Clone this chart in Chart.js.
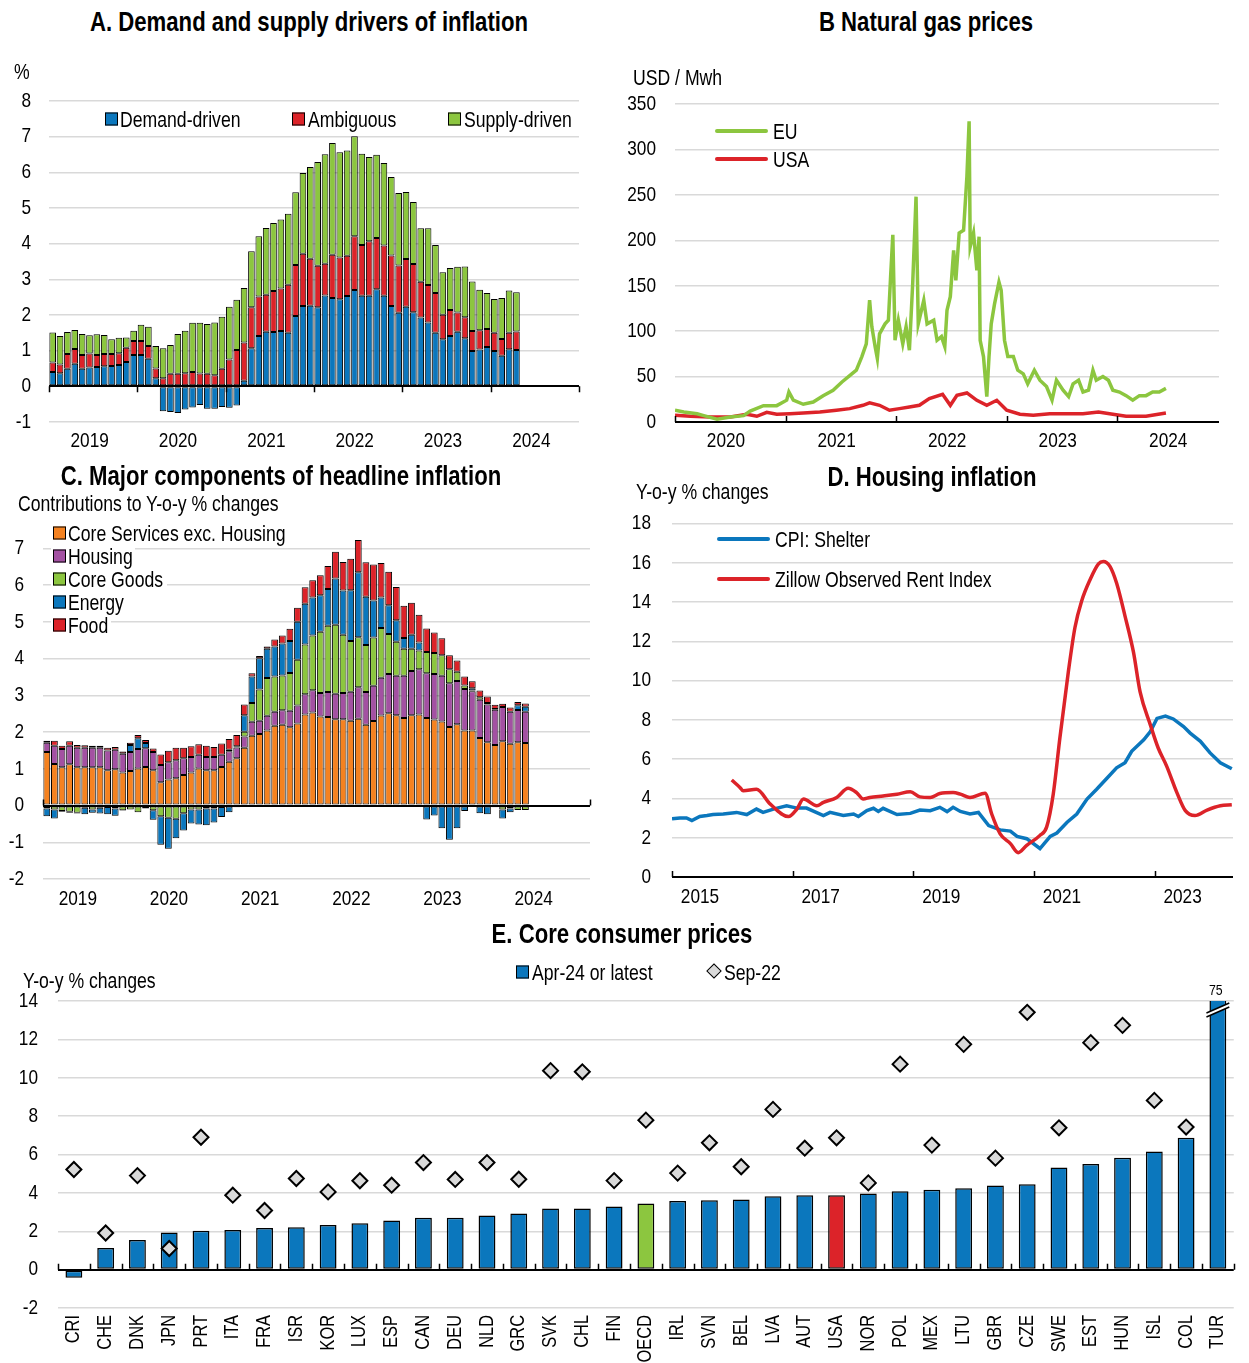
<!DOCTYPE html>
<html lang="en"><head><meta charset="utf-8"><title>Inflation drivers</title>
<script src="https://cdn.jsdelivr.net/npm/chart.js@4.4.1/dist/chart.umd.min.js"></script>
<style>
 html,body{margin:0;padding:0;background:#fff}
 body{position:relative;width:1249px;height:1363px;overflow:hidden;color:#000;
   font-family:'Liberation Sans Narrow','Arial Narrow','Liberation Sans',sans-serif}
 canvas{position:absolute;display:block}
 .txt{position:absolute;white-space:nowrap;line-height:1;font-size:21.5px;transform:translateY(-43%) scaleX(0.82);transform-origin:left center}
 .ttl{position:absolute;white-space:nowrap;line-height:1;font-size:27px;font-weight:bold;transform:translate(-50%,-50%) scaleX(0.82);transform-origin:center center}
 .sw{position:absolute;width:11px;height:11px;border:1px solid #000;transform:translateY(-50%)}
 .ln{position:absolute;height:4px;border-radius:2px;transform:translateY(-50%)}
 .bgw{position:absolute;background:#fff;height:20px;transform:translateY(-50%)}
 .dia{position:absolute;width:9px;height:9px;border:1.5px solid #000;background:#d9d9d9;transform:translate(-50%,-50%) rotate(45deg)}
</style></head><body>
<canvas id="cA" width="600" height="400" style="left:0;top:60px"></canvas>
<canvas id="cB" width="649" height="400" style="left:600px;top:60px"></canvas>
<canvas id="cC" width="600" height="440" style="left:0;top:480px"></canvas>
<canvas id="cD" width="649" height="430" style="left:600px;top:490px"></canvas>
<canvas id="cE" width="1249" height="413" style="left:0;top:950px"></canvas>

<div class="ttl" style="left:309px;top:22px">A. Demand and supply drivers of inflation</div>
<div class="ttl" style="left:926px;top:22px">B Natural gas prices</div>
<div class="ttl" style="left:281px;top:476px">C. Major components of headline inflation</div>
<div class="ttl" style="left:932px;top:477px">D. Housing inflation</div>
<div class="ttl" style="left:622px;top:934px">E. Core consumer prices</div>

<div class="txt" style="left:14px;top:71px">%</div>
<div class="txt" style="left:633px;top:77px">USD / Mwh</div>
<div class="txt" style="left:18px;top:503px">Contributions to Y-o-y % changes</div>
<div class="txt" style="left:636px;top:491px">Y-o-y % changes</div>
<div class="txt" style="left:23px;top:980px">Y-o-y % changes</div>

<!-- panel A legend -->
<div class="sw" style="left:105px;top:119px;background:#0b77bd"></div><div class="txt" style="left:120px;top:119px">Demand-driven</div>
<div class="sw" style="left:292px;top:119px;background:#dc2329"></div><div class="txt" style="left:308px;top:119px">Ambiguous</div>
<div class="sw" style="left:448px;top:119px;background:#8cc63f"></div><div class="txt" style="left:464px;top:119px">Supply-driven</div>

<!-- panel B legend -->
<div class="ln" style="left:715px;top:131px;width:53px;background:#8cc63f"></div><div class="txt" style="left:773px;top:131px">EU</div>
<div class="ln" style="left:715px;top:159px;width:53px;background:#dc2329"></div><div class="txt" style="left:773px;top:159px">USA</div>

<!-- panel C legend -->
<div class="bgw" style="left:51px;top:533px;width:237px"></div>
<div class="bgw" style="left:51px;top:556px;width:84px"></div>
<div class="bgw" style="left:51px;top:579px;width:116px"></div>
<div class="bgw" style="left:51px;top:602px;width:76px"></div>
<div class="bgw" style="left:51px;top:625px;width:60px"></div>
<div class="sw" style="left:53px;top:533px;background:#f58220"></div><div class="txt" style="left:68px;top:533px">Core Services exc. Housing</div>
<div class="sw" style="left:53px;top:556px;background:#a351a2"></div><div class="txt" style="left:68px;top:556px">Housing</div>
<div class="sw" style="left:53px;top:579px;background:#8cc63f"></div><div class="txt" style="left:68px;top:579px">Core Goods</div>
<div class="sw" style="left:53px;top:602px;background:#0b77bd"></div><div class="txt" style="left:68px;top:602px">Energy</div>
<div class="sw" style="left:53px;top:625px;background:#dc2329"></div><div class="txt" style="left:68px;top:625px">Food</div>

<!-- panel D legend -->
<div class="ln" style="left:717px;top:539px;width:53px;background:#0b77bd"></div><div class="txt" style="left:775px;top:539px">CPI: Shelter</div>
<div class="ln" style="left:717px;top:579px;width:53px;background:#dc2329"></div><div class="txt" style="left:775px;top:579px">Zillow Observed Rent Index</div>

<!-- panel E legend -->
<div class="sw" style="left:516px;top:972px;background:#0b77bd"></div><div class="txt" style="left:532px;top:972px">Apr-24 or latest</div>
<div class="dia" style="left:714px;top:971px"></div><div class="txt" style="left:724px;top:972px">Sep-22</div>

<script>
// ---------- Panel A: drivers of inflation (monthly, Jan 2019 - Apr 2024) ----------
const demandDriven = [0.40,0.37,0.49,0.63,0.49,0.53,0.54,0.56,0.57,0.60,0.68,0.88,
  0.88,0.77,0.23,-0.70,-0.72,-0.75,-0.65,-0.59,-0.52,-0.63,-0.63,-0.58,
  -0.60,-0.54,0.16,1.07,1.41,1.53,1.52,1.55,1.50,1.97,2.25,2.26,
  2.22,2.55,2.48,2.44,2.53,2.70,2.54,2.54,2.72,2.54,2.25,2.06,
  2.23,2.08,1.93,1.79,1.50,1.32,1.41,1.53,1.35,0.99,1.03,1.10,
  0.99,0.86,1.04,1.02];
const ambiguous = [0.27,0.24,0.42,0.42,0.39,0.39,0.34,0.35,0.34,0.33,0.40,0.39,
  0.39,0.36,0.27,0.23,0.35,0.35,0.37,0.40,0.36,0.35,0.31,0.49,
  0.75,1.02,1.07,1.15,1.11,1.04,1.15,1.19,1.35,1.43,1.47,1.32,
  1.16,0.89,1.21,1.17,1.13,1.51,1.42,1.53,1.44,1.41,1.42,1.33,
  1.34,1.35,1.00,1.05,1.12,0.69,0.73,0.54,0.59,0.56,0.54,0.51,
  0.51,0.47,0.46,0.52];
const supplyDriven = [0.84,0.80,0.61,0.53,0.59,0.51,0.58,0.53,0.41,0.43,0.29,0.29,
  0.46,0.54,0.63,0.84,0.81,1.12,1.19,1.38,1.42,1.40,1.48,1.46,
  1.48,1.41,1.53,1.57,1.69,1.87,1.91,1.94,1.99,2.04,2.26,2.57,
  2.91,3.07,3.13,2.95,2.95,2.80,2.56,2.36,2.33,2.31,2.20,2.03,
  1.88,1.74,1.50,1.59,1.34,1.19,1.18,1.28,1.42,1.39,1.14,1.01,
  0.95,1.15,1.19,1.10];

// ---------- Panel B: natural gas prices, USD / MWh ----------
const euDates = [2020.00,2020.08,2020.20,2020.26,2020.38,2020.50,2020.62,2020.68,2020.80,2020.92,
  2021.01,2021.03,2021.07,2021.16,2021.25,2021.34,2021.43,2021.51,2021.58,2021.64,
  2021.69,2021.73,2021.76,2021.78,2021.81,2021.83,2021.85,2021.90,2021.93,2021.95,
  2021.97,2021.99,2022.02,2022.06,2022.09,2022.12,2022.15,2022.18,2022.20,2022.25,
  2022.28,2022.34,2022.37,2022.41,2022.44,2022.46,2022.49,2022.52,2022.54,2022.57,
  2022.61,2022.64,2022.66,2022.67,2022.70,2022.73,2022.75,2022.76,2022.79,2022.82,
  2022.84,2022.86,2022.89,2022.93,2022.95,2022.98,2023.01,2023.06,2023.10,2023.15,
  2023.19,2023.25,2023.30,2023.36,2023.41,2023.45,2023.51,2023.56,2023.60,2023.65,
  2023.69,2023.74,2023.78,2023.81,2023.87,2023.92,2023.96,2024.02,2024.08,2024.14,
  2024.20,2024.26,2024.32,2024.38,2024.44];
const euPrice = [13,11,9,7,3,5.5,7,12,18,18,
  24,33,24,19.5,22,29,35,44,51,57,
  72,86,134,105,83,70,97,108,112,160,
  206,90,112,86,105,79,153,248,108,134,
  108,112,90,94,83,123,138,189,156,208,
  211,270,331,193,208,167,204,90,72,28,
  72,108,130,154,145,90,72,72,57,53,
  42,57,46,39,24,46,35,28,42,46,
  33,35,57,46,50,46,35,33,29,24,
  29,29,33,33,37];
const usDates = [2020.00,2020.14,2020.32,2020.50,2020.65,2020.74,2020.83,2020.92,2021.04,2021.16,
  2021.31,2021.46,2021.58,2021.70,2021.76,2021.85,2021.94,2022.03,2022.12,2022.21,
  2022.30,2022.42,2022.49,2022.55,2022.64,2022.73,2022.82,2022.91,2023.00,2023.12,
  2023.24,2023.39,2023.54,2023.69,2023.83,2023.96,2024.08,2024.26,2024.44];
const usPrice = [7.4,6.3,5.5,5.5,8.5,6.3,10.7,8.5,9.2,9.9,
  11,12.9,14.7,18.4,21,18.4,12.9,14.7,16.5,18.4,
  25.7,30.5,18.4,29.4,32,23.9,18.4,23.9,12.9,8.5,
  7.4,9.2,9.2,9.2,11,8.5,6.3,6.3,9.9];
const gasYears = [2020,2021,2022,2023,2024];

// ---------- Panel C: components of headline inflation ----------
const coreServices = [1.46,1.13,1.04,1.12,1.04,1.04,1.04,1.04,0.96,0.99,0.90,0.94,
  1.01,1.05,0.96,0.63,0.71,0.74,0.83,0.90,1.01,0.96,0.96,1.05,
  1.19,1.29,1.57,1.90,1.95,2.04,2.17,2.20,2.13,2.23,2.48,2.53,
  2.42,2.41,2.35,2.35,2.31,2.36,2.20,2.30,2.45,2.51,2.46,2.38,
  2.46,2.48,2.38,2.34,2.29,2.14,2.21,2.04,2.04,1.84,1.72,1.65,
  1.75,1.68,1.72,1.70];
const housing = [0.25,0.50,0.50,0.51,0.53,0.53,0.53,0.53,0.54,0.53,0.51,0.52,
  0.53,0.51,0.50,0.47,0.47,0.49,0.46,0.42,0.37,0.36,0.36,0.33,
  0.29,0.29,0.31,0.38,0.36,0.40,0.38,0.39,0.45,0.49,0.55,0.61,
  0.64,0.68,0.69,0.71,0.79,0.86,0.89,0.96,1.03,1.07,1.07,1.15,
  1.20,1.23,1.22,1.24,1.24,1.19,1.18,1.13,1.07,1.04,1.03,0.96,
  0.93,0.87,0.88,0.85];
const coreGoods = [-0.08,-0.11,-0.15,-0.17,-0.20,-0.06,-0.11,-0.06,-0.04,-0.08,-0.13,-0.11,
  -0.18,-0.08,-0.13,-0.29,-0.33,-0.36,-0.21,-0.11,-0.11,-0.08,-0.08,-0.04,
  0.04,0.03,0.13,0.51,0.85,1.03,0.96,0.95,1.03,1.25,1.35,1.49,
  1.67,1.80,1.88,1.59,1.38,1.36,1.28,1.31,1.35,1.09,0.93,0.74,
  0.61,0.51,0.58,0.57,0.56,0.38,0.25,0.10,0.02,0.07,0.04,-0.05,
  -0.11,-0.08,-0.12,-0.12];
const energy = [-0.21,-0.24,-0.02,-0.03,-0.02,-0.18,-0.09,-0.16,-0.20,-0.20,-0.01,0.19,
  0.29,0.14,-0.26,-0.78,-0.85,-0.53,-0.47,-0.38,-0.41,-0.46,-0.38,-0.27,
  -0.18,-0.05,0.45,0.72,0.85,0.80,0.82,0.87,0.87,1.03,1.11,1.03,
  0.99,1.00,1.26,1.20,1.38,1.77,1.31,1.01,0.83,0.78,0.58,0.29,
  0.38,0.22,-0.38,-0.27,-0.62,-0.93,-0.62,-0.15,0.06,-0.21,-0.24,0.02,
  -0.24,-0.10,0.13,0.14];
const food = [0.05,0.13,0.09,0.12,0.08,0.07,0.06,0.06,0.07,0.07,0.06,0.06,
  0.09,0.08,0.09,0.29,0.31,0.34,0.28,0.29,0.29,0.31,0.27,0.31,
  0.29,0.31,0.29,0.09,0.06,0.06,0.19,0.22,0.33,0.38,0.45,0.47,
  0.55,0.63,0.73,0.78,0.86,0.88,0.94,0.98,0.94,0.91,0.91,0.88,
  0.87,0.75,0.64,0.56,0.46,0.38,0.31,0.24,0.19,0.18,0.18,0.11,
  0.09,0.12,0.09,0.09];

// ---------- Panel D: housing inflation, y-o-y % ----------
const shelterDates = [2015.00,2015.13,2015.24,2015.33,2015.46,2015.58,2015.68,2015.85,
  2016.07,2016.24,2016.40,2016.51,2016.68,2016.90,
  2017.07,2017.23,2017.51,2017.62,2017.84,
  2018.01,2018.09,2018.23,2018.34,2018.42,2018.50,2018.73,2018.95,
  2019.11,2019.28,2019.44,2019.56,2019.66,2019.78,2019.94,
  2020.08,2020.25,2020.44,2020.61,2020.72,2020.88,
  2021.10,2021.27,2021.38,2021.55,2021.71,2021.88,
  2022.04,2022.21,2022.37,2022.51,2022.62,2022.82,2022.93,
  2023.04,2023.18,2023.31,2023.48,2023.59,2023.76,2023.92,
  2024.09,2024.28];
const shelter = [2.96,3.01,3.01,2.87,3.08,3.13,3.18,3.21,
  3.29,3.18,3.46,3.29,3.46,3.63,
  3.51,3.51,3.13,3.29,3.13,
  3.21,3.08,3.38,3.50,3.34,3.50,3.18,3.24,
  3.41,3.38,3.55,3.33,3.55,3.34,3.21,
  3.29,2.62,2.40,2.34,2.07,1.95,
  1.45,2.07,2.24,2.79,3.21,3.97,
  4.47,5.03,5.56,5.82,6.40,6.99,7.41,
  8.08,8.20,8.05,7.66,7.33,6.91,6.32,
  5.82,5.51];
const zillowDates = [2015.99,2016.13,2016.18,2016.40,2016.63,2016.93,
  2017.07,2017.18,2017.40,2017.51,2017.73,2017.92,
  2018.06,2018.17,2018.28,2018.50,2018.73,2018.95,
  2019.11,2019.28,2019.44,2019.66,2019.78,2019.94,
  2020.19,2020.30,2020.44,2020.61,2020.74,2020.88,
  2021.10,2021.21,2021.32,2021.43,2021.57,2021.68,2021.79,2021.93,
  2022.07,2022.15,2022.26,2022.37,2022.51,2022.65,2022.76,2022.93,
  2023.06,2023.20,2023.37,2023.51,2023.67,2023.87,
  2024.09,2024.28];
const zillow = [4.94,4.55,4.39,4.47,3.71,3.08,
  3.46,3.97,3.63,3.80,4.05,4.52,
  4.30,3.97,4.05,4.13,4.22,4.34,
  4.08,4.05,4.25,4.30,4.22,4.05,
  4.27,3.21,2.20,1.70,1.24,1.61,
  2.12,2.54,4.22,7.08,10.44,12.71,14.05,15.14,
  15.95,16.07,15.82,14.97,13.29,11.45,9.43,7.75,
  6.57,5.65,4.30,3.38,3.13,3.41,
  3.63,3.68];
const housingYears = [2015,2017,2019,2021,2023];

// ---------- Panel E: core consumer prices, y-o-y % ----------
const countries = ['CRI','CHE','DNK','JPN','PRT','ITA','FRA','ISR','KOR','LUX','ESP','CAN','DEU','NLD','GRC',
  'SVK','CHL','FIN','OECD','IRL','SVN','BEL','LVA','AUT','USA','NOR','POL','MEX','LTU','GBR','CZE','SWE',
  'EST','HUN','ISL','COL','TUR'];
const latest = [-0.42,1.13,1.55,1.93,2.03,2.07,2.17,2.21,2.33,2.42,2.56,2.70,2.71,2.82,2.92,
  3.19,3.19,3.29,3.44,3.58,3.62,3.65,3.83,3.87,3.88,3.97,4.09,4.16,4.24,4.38,4.45,5.32,
  5.51,5.83,6.16,6.87,75];
const sep22 = [5.22,1.91,4.90,1.10,6.90,3.88,3.08,4.75,4.05,4.63,4.40,5.58,4.70,5.58,4.71,
  10.37,10.31,4.64,7.79,5.03,6.61,5.36,8.35,6.33,6.87,4.52,10.71,6.49,11.74,5.81,13.41,7.39,
  11.83,12.73,8.82,7.43,null];

// ---------- styling ----------
const FONT = "'Liberation Sans Narrow','Arial Narrow','Liberation Sans',sans-serif";
const BLUE = '#0b77bd', RED = '#dc2329', GREEN = '#8cc63f', ORANGE = '#f58220', PURPLE = '#a351a2';
const GRID = '#d9d9d9';
const NARROW = 0.82;   // horizontal squeeze giving canvas text a narrow face

// canvas text drawn horizontally condensed around its anchor point
const baseFillText = CanvasRenderingContext2D.prototype.fillText;
CanvasRenderingContext2D.prototype.fillText = function (text, x, y, maxWidth) {
  this.save();
  this.translate(x, y);
  this.scale(NARROW, 1);
  if (maxWidth === undefined) baseFillText.call(this, text, 0, 0);
  else baseFillText.call(this, text, 0, 0, maxWidth / NARROW);
  this.restore();
};

Chart.defaults.font.family = FONT;
Chart.defaults.font.size = 21;
Chart.defaults.color = '#000';
Chart.defaults.animation = false;
Chart.defaults.responsive = false;
Chart.defaults.plugins.legend.display = false;
Chart.defaults.plugins.tooltip.enabled = false;

// short tick marks along a horizontal reference value (year or category boundaries)
const tickMarks = {
  id: 'tickMarks',
  afterDatasetsDraw(chart, args, opts) {
    if (!opts || !opts.at) return;
    const xs = chart.scales.x, ys = chart.scales.y, ctx = chart.ctx;
    const y0 = ys.getPixelForValue(opts.yValue);
    ctx.save();
    ctx.strokeStyle = '#000';
    ctx.lineWidth = 1.5;
    ctx.beginPath();
    opts.at.forEach(v => {
      const px = Math.round(xs.getPixelForValue(v)) + 0.5;
      ctx.moveTo(px, y0);
      ctx.lineTo(px, y0 + opts.len);
    });
    ctx.stroke();
    ctx.restore();
  }
};

// axis-break symbol and value label for a bar running past the top of the scale
const breakMark = {
  id: 'breakMark',
  afterDatasetsDraw(chart, args, opts) {
    if (!opts || opts.index === undefined) return;
    const di = chart.data.datasets.findIndex(d => d.type === 'bar');
    const el = chart.getDatasetMeta(di).data[opts.index];
    const value = chart.data.datasets[di].data[opts.index];
    const { ctx, chartArea } = chart;
    const top = chartArea.top;
    const xl = el.x - el.width / 2 - 3, xr = el.x + el.width / 2 + 3;
    ctx.save();
    ctx.fillStyle = '#fff';
    ctx.beginPath();
    ctx.moveTo(xl, top + 12); ctx.lineTo(xr, top + 2); ctx.lineTo(xr, top + 6); ctx.lineTo(xl, top + 16);
    ctx.closePath(); ctx.fill();
    ctx.strokeStyle = '#000'; ctx.lineWidth = 1.5;
    ctx.beginPath();
    ctx.moveTo(xl, top + 12); ctx.lineTo(xr, top + 2);
    ctx.moveTo(xl, top + 16); ctx.lineTo(xr, top + 6);
    ctx.stroke();
    ctx.fillStyle = '#000';
    ctx.font = '15px ' + FONT;
    ctx.textAlign = 'center';
    ctx.textBaseline = 'alphabetic';
    ctx.fillText(String(value), el.x - 2, top - 6);
    ctx.restore();
  }
};
Chart.register(tickMarks, breakMark);

function gridY(hidden) {
  return {
    color: c => (c.tick && c.tick.value === 0) ? '#000' : (hidden !== undefined && c.tick && c.tick.value === hidden ? 'rgba(0,0,0,0)' : GRID),
    lineWidth: c => (c.tick && c.tick.value === 0) ? 2 : 1.5,
    drawTicks: false
  };
}
const xy = (xsArr, ysArr) => xsArr.map((x, i) => ({ x, y: ysArr[i] }));

// month labels 2019-01 .. 2024-12
const months = [];
for (let y = 2019; y <= 2024; y++) for (let m = 1; m <= 12; m++) months.push(y + '-' + String(m).padStart(2, '0'));
const yearBounds = [];
for (let i = 0; i <= 72; i += 12) yearBounds.push(i - 0.5);
const yearLabel = (v, i) => (i % 12 === 0 ? months[i].slice(0, 4) : null);

// ---------- A ----------
new Chart(document.getElementById('cA'), {
  type: 'bar',
  data: { labels: months, datasets: [
    { label: 'Demand-driven', data: demandDriven, backgroundColor: BLUE },
    { label: 'Ambiguous', data: ambiguous, backgroundColor: RED },
    { label: 'Supply-driven', data: supplyDriven, backgroundColor: GREEN }
  ] },
  options: {
    layout: { padding: { left: 0, right: 21, top: 41, bottom: 0 } },
    datasets: { bar: { borderColor: '#000', borderWidth: 1, borderSkipped: false, categoryPercentage: 1, barPercentage: 0.9 } },
    scales: {
      x: { stacked: true, grid: { display: false, drawTicks: false }, border: { display: false },
           ticks: { autoSkip: false, maxRotation: 0, padding: 7, labelOffset: 37, callback: yearLabel },
           afterFit: s => { s.height = 38; } },
      y: { stacked: true, min: -1, max: 8, ticks: { stepSize: 1, padding: 18 }, grid: gridY(), border: { display: false },
           afterFit: s => { s.width = 49; } }
    },
    plugins: { tickMarks: { yValue: 0, at: yearBounds, len: 6 } }
  }
});

// ---------- B ----------
new Chart(document.getElementById('cB'), {
  type: 'line',
  data: { datasets: [
    { label: 'EU', data: xy(euDates, euPrice), borderColor: GREEN, borderWidth: 3.5, pointRadius: 0 },
    { label: 'USA', data: xy(usDates, usPrice), borderColor: RED, borderWidth: 3.5, pointRadius: 0 }
  ] },
  options: {
    layout: { padding: { left: 0, right: 30, top: 44, bottom: 0 } },
    scales: {
      x: { type: 'linear', min: 2020, max: 2024.92,
           afterBuildTicks: s => { s.ticks = gasYears.map(v => ({ value: v })); },
           ticks: { maxRotation: 0, padding: 7, labelOffset: 51, callback: v => String(v) },
           grid: { display: false, drawTicks: false }, border: { display: false },
           afterFit: s => { s.height = 38; } },
      y: { min: 0, max: 350, ticks: { stepSize: 50, padding: 19 }, grid: gridY(), border: { display: false },
           afterFit: s => { s.width = 75; } }
    },
    plugins: { tickMarks: { yValue: 0, at: gasYears, len: -6 } }
  }
});

// ---------- C ----------
new Chart(document.getElementById('cC'), {
  type: 'bar',
  data: { labels: months, datasets: [
    { label: 'Core Services exc. Housing', data: coreServices, backgroundColor: ORANGE },
    { label: 'Housing', data: housing, backgroundColor: PURPLE },
    { label: 'Core Goods', data: coreGoods, backgroundColor: GREEN },
    { label: 'Energy', data: energy, backgroundColor: BLUE },
    { label: 'Food', data: food, backgroundColor: RED }
  ] },
  options: {
    layout: { padding: { left: 0, right: 10, top: 25, bottom: 0 } },
    datasets: { bar: { borderColor: '#000', borderWidth: 1, borderSkipped: false, categoryPercentage: 1, barPercentage: 0.9 } },
    scales: {
      x: { stacked: true, grid: { display: false, drawTicks: false }, border: { display: false },
           ticks: { autoSkip: false, maxRotation: 0, padding: 8, labelOffset: 31, callback: yearLabel },
           afterFit: s => { s.height = 41; } },
      y: { stacked: true, min: -2, max: 8, ticks: { stepSize: 1, padding: 19, callback: v => (v === 8 ? '' : String(v)) },
           grid: gridY(8), border: { display: false },
           afterFit: s => { s.width = 43; } }
    },
    plugins: { tickMarks: { yValue: 0, at: [-0.5, 71.5], len: -6 } }
  }
});

// ---------- D ----------
new Chart(document.getElementById('cD'), {
  type: 'line',
  data: { datasets: [
    { label: 'Zillow Observed Rent Index', data: xy(zillowDates, zillow), borderColor: RED, borderWidth: 3.5,
      pointRadius: 0, cubicInterpolationMode: 'monotone', order: 0 },
    { label: 'CPI: Shelter', data: xy(shelterDates, shelter), borderColor: BLUE, borderWidth: 3.5, pointRadius: 0, order: 1 }
  ] },
  options: {
    layout: { padding: { left: 0, right: 16, top: 29, bottom: 0 } },
    scales: {
      x: { type: 'linear', min: 2015, max: 2024.3,
           afterBuildTicks: s => { s.ticks = housingYears.map(v => ({ value: v })); },
           ticks: { maxRotation: 0, padding: 8, labelOffset: 28, callback: v => String(v) },
           grid: { display: false, drawTicks: false }, border: { display: false },
           afterFit: s => { s.height = 43; } },
      y: { min: 0, max: 18, ticks: { stepSize: 2, padding: 21 }, grid: gridY(), border: { display: false },
           afterFit: s => { s.width = 72; } }
    },
    plugins: { tickMarks: { yValue: 0, at: housingYears, len: -6 } }
  }
});

// ---------- E ----------
const barColors = countries.map(c => (c === 'OECD' ? GREEN : c === 'USA' ? RED : BLUE));
const catBounds = countries.map((c, i) => i - 0.5).concat([countries.length - 0.5]);
new Chart(document.getElementById('cE'), {
  type: 'bar',
  data: { labels: countries, datasets: [
    { type: 'line', label: 'Sep-22', data: sep22, showLine: false, pointStyle: 'rectRot', pointRadius: 7.5,
      pointBackgroundColor: '#d9d9d9', pointBorderColor: '#000', pointBorderWidth: 2, order: 0 },
    { type: 'bar', label: 'Apr-24 or latest', data: latest, backgroundColor: barColors, borderColor: '#000',
      borderWidth: 1.5, borderSkipped: false, categoryPercentage: 1, barPercentage: 0.53, order: 1 }
  ] },
  options: {
    layout: { padding: { left: 0, right: 2, top: 51, bottom: 0 } },
    scales: {
      x: { grid: { display: false, drawTicks: false }, border: { display: false },
           ticks: { autoSkip: false, minRotation: 90, maxRotation: 90, padding: 7, font: { size: 20 } },
           afterFit: s => { s.height = 55; } },
      y: { min: -2, max: 14, ticks: { stepSize: 2, padding: 20 }, grid: gridY(), border: { display: false },
           afterFit: s => { s.width = 58; } }
    },
    plugins: { tickMarks: { yValue: 0, at: catBounds, len: -6 }, breakMark: { index: countries.indexOf('TUR') } }
  }
});
</script>
</body></html>
